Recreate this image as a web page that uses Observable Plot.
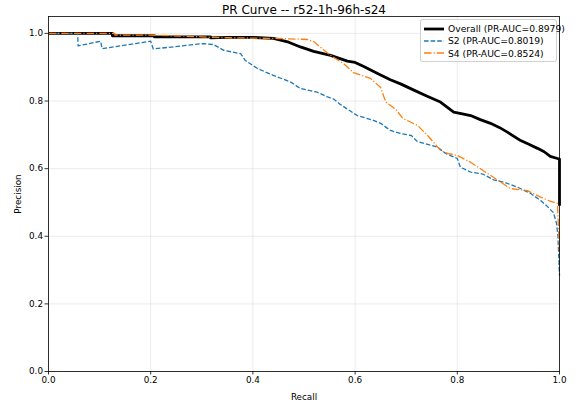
<!DOCTYPE html>
<html>
<head>
<meta charset="utf-8">
<script src="https://cdn.jsdelivr.net/npm/d3@7"></script>
<script src="https://cdn.jsdelivr.net/npm/@observablehq/plot@0.6"></script>
<style>
  html, body { margin: 0; padding: 0; background: #fff; }
  #wrap { position: relative; width: 579px; height: 404px; font-family: 'DejaVu Sans', sans-serif; }
  #wrap svg text { font-family: 'DejaVu Sans', sans-serif; }
  #legend {
    position: absolute; left: 420px; top: 19px; width: 137px; height: 43px;
    border: 1px solid rgba(204,204,204,0.9); border-radius: 3px; background: rgba(255,255,255,0.8);
    box-sizing: border-box; font-size: 9.2px; color: #000;
  }
  .row { position: absolute; left: 3px; height: 12px; display: flex; align-items: center; white-space: nowrap; }
  .row svg { margin-right: 4px; }
</style>
</head>
<body>
<div id="wrap"><div id="legend"></div></div>
<script>
const title = "PR Curve -- r52-1h-96h-s24";
const xLabel = "Recall";
const yLabel = "Precision";
const xTicks = [0, 0.2, 0.4, 0.6, 0.8, 1.0];
const yTicks = [0, 0.2, 0.4, 0.6, 0.8, 1.0];

const seriesNames = ["Overall (PR-AUC=0.8979)", "S2 (PR-AUC=0.8019)", "S4 (PR-AUC=0.8524)"];
const seriesColors = ["#000000", "#1f77b4", "#ff7f0e"];

const overallRecall = [0,0.125,0.125,0.207,0.207,0.317,0.317,0.35,0.40,0.44,0.47,0.493,0.519,0.552,0.585,0.60,0.617,0.643,0.669,0.69,0.714,0.74,0.767,0.793,0.81,0.826,0.845,0.865,0.882,0.898,0.924,0.94,0.957,0.97,0.982,0.996,1.0,1.0];
const overallPrecision = [1.0,1.0,0.993,0.993,0.99,0.99,0.987,0.988,0.988,0.985,0.974,0.96,0.947,0.935,0.918,0.914,0.902,0.882,0.863,0.85,0.833,0.815,0.797,0.767,0.762,0.757,0.745,0.734,0.722,0.708,0.683,0.672,0.66,0.65,0.636,0.63,0.628,0.49];

const s2Recall = [0,0.057,0.058,0.102,0.105,0.2,0.205,0.303,0.323,0.343,0.376,0.385,0.409,0.44,0.474,0.493,0.526,0.546,0.558,0.571,0.604,0.636,0.65,0.669,0.689,0.71,0.722,0.761,0.777,0.80,0.806,0.826,0.85,0.871,0.895,0.918,0.943,0.963,0.975,0.988,0.994,0.997,1.0];
const s2Precision = [1.0,1.0,0.963,0.977,0.955,0.977,0.954,0.97,0.967,0.95,0.94,0.92,0.896,0.876,0.856,0.837,0.826,0.812,0.806,0.79,0.757,0.743,0.734,0.713,0.704,0.698,0.68,0.664,0.645,0.63,0.604,0.59,0.584,0.567,0.558,0.545,0.527,0.506,0.49,0.47,0.44,0.40,0.284];

const s4Recall = [0,0.13,0.13,0.2,0.3,0.32,0.45,0.507,0.52,0.528,0.552,0.577,0.597,0.63,0.65,0.66,0.68,0.693,0.722,0.742,0.767,0.781,0.80,0.826,0.859,0.885,0.904,0.937,0.963,0.98,0.996,1.0];
const s4Precision = [1.0,1.0,0.995,0.995,0.99,0.988,0.985,0.982,0.975,0.964,0.935,0.911,0.884,0.867,0.84,0.797,0.775,0.749,0.728,0.698,0.654,0.645,0.639,0.619,0.586,0.56,0.541,0.535,0.516,0.505,0.497,0.35];

const styles = [
  {strokeWidth: 2.8, dash: null},
  {strokeWidth: 1.3, dash: "4.6,2"},
  {strokeWidth: 1.3, dash: "7.5,2,1.2,2"}
];

const toRows = (r, p) => r.map((v, i) => ({recall: v, precision: p[i]}));
const data = [toRows(overallRecall, overallPrecision), toRows(s2Recall, s2Precision), toRows(s4Recall, s4Precision)];

const lineMarks = data.map((rows, i) => Plot.line(rows, {
  x: "recall", y: "precision", stroke: seriesColors[i], strokeWidth: styles[i].strokeWidth,
  strokeDasharray: styles[i].dash, strokeLinejoin: "round", strokeLinecap: "butt"
}));

const chart = Plot.plot({
  width: 579, height: 404,
  marginLeft: 48, marginRight: 20, marginTop: 16, marginBottom: 33,
  style: {fontFamily: "'DejaVu Sans', sans-serif", fontSize: "8.8px", background: "transparent", overflow: "visible"},
  x: {domain: [0, 1]},
  y: {domain: [0, 1.05]},
  marks: [
    Plot.gridX(xTicks, {stroke: "#b0b0b0", strokeOpacity: 0.3, strokeWidth: 0.8}),
    Plot.gridY(yTicks, {stroke: "#b0b0b0", strokeOpacity: 0.3, strokeWidth: 0.8}),
    ...lineMarks,
    Plot.frame({stroke: "black", strokeWidth: 0.8}),
    Plot.axisX(xTicks, {tickFormat: d3.format(".1f"), tickSize: 3.5, tickPadding: 2, strokeWidth: 0.8,
      label: xLabel, labelAnchor: "center", labelOffset: 28, labelArrow: "none"}),
    Plot.axisY(yTicks, {tickFormat: d3.format(".1f"), tickSize: 3.5, tickPadding: 2, strokeWidth: 0.8,
      label: yLabel, labelAnchor: "center", labelOffset: 34, labelArrow: "none"}),
    Plot.text([title], {frameAnchor: "top", dy: -3, lineAnchor: "bottom", fontSize: 12, text: d => d})
  ]
});
document.getElementById("wrap").prepend(chart);

const legend = document.getElementById("legend");
seriesNames.forEach((name, i) => {
  const row = document.createElement("div");
  row.className = "row";
  row.style.top = (2.5 + i * 12.3) + "px";
  const dash = styles[i].dash ? ` stroke-dasharray="${styles[i].dash}"` : "";
  row.innerHTML = `<svg width="20" height="8"><line x1="0" x2="20" y1="4" y2="4" stroke="${seriesColors[i]}" stroke-width="${styles[i].strokeWidth}"${dash}/></svg><span>${name}</span>`;
  legend.appendChild(row);
});
</script>
</body>
</html>
